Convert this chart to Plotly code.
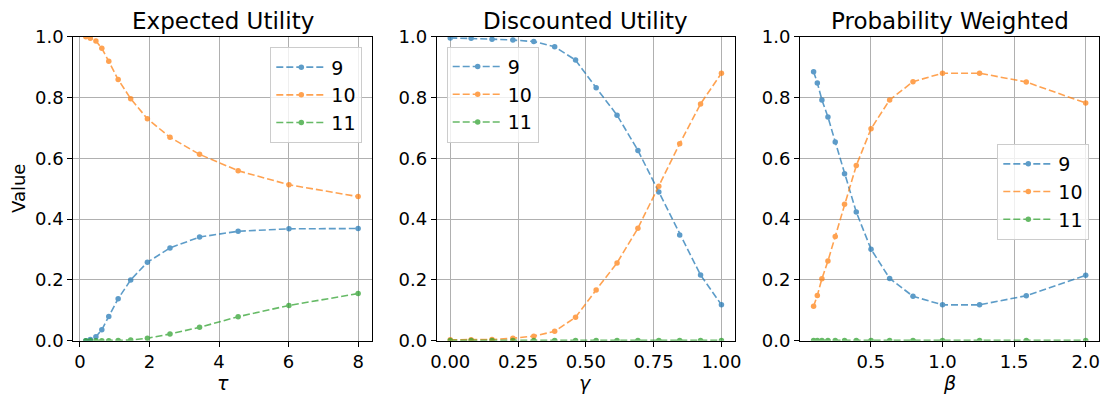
import plotly.graph_objects as go

# ---------------- data ----------------
series_names = ["9", "10", "11"]

tau = [0.17, 0.3, 0.46, 0.63, 0.83, 1.1, 1.46, 1.94, 2.59, 3.44, 4.55, 6.01, 8.0]
eu_9 = [0.0, 0.004, 0.013, 0.036, 0.080, 0.138, 0.200, 0.258, 0.305, 0.341, 0.360, 0.368, 0.369]
eu_10 = [1.0, 0.995, 0.986, 0.962, 0.919, 0.859, 0.796, 0.730, 0.669, 0.613, 0.559, 0.513, 0.474]
eu_11 = [0.0, 0.0, 0.0, 0.0, 0.0, 0.001, 0.002, 0.008, 0.022, 0.044, 0.079, 0.116, 0.155]

gamma = [0.0, 0.077, 0.154, 0.231, 0.308, 0.385, 0.462, 0.538, 0.615, 0.692, 0.769, 0.846, 0.923, 1.0]
du_9 = [0.996, 0.995, 0.992, 0.989, 0.984, 0.967, 0.923, 0.832, 0.742, 0.626, 0.489, 0.348, 0.216, 0.118]
du_10 = [0.003, 0.003, 0.004, 0.008, 0.015, 0.031, 0.077, 0.167, 0.256, 0.370, 0.508, 0.648, 0.779, 0.880]
du_11 = [0.001] * 14

beta = [0.1, 0.126, 0.158, 0.2, 0.251, 0.316, 0.398, 0.501, 0.631, 0.794, 1.0, 1.259, 1.585, 2.0]
pw_9 = [0.885, 0.848, 0.792, 0.736, 0.654, 0.549, 0.423, 0.301, 0.205, 0.146, 0.118, 0.118, 0.148, 0.215]
pw_10 = [0.113, 0.149, 0.204, 0.262, 0.343, 0.449, 0.576, 0.697, 0.792, 0.852, 0.880, 0.880, 0.851, 0.782]
pw_11 = [0.001] * 14

panel_titles = ["Expected Utility", "Discounted Utility", "Probability Weighted"]
x_labels = ["<i>τ</i>", "<i>γ</i>", "<i>β</i>"]
y_label = "Value"

# ---------------- style ----------------
W, H = 1106, 395
FONT = "DejaVu Sans"
colors = ["#1f77b4", "#ff7f0e", "#2ca02c"]

def px_x(p):
    return p / W

def px_y(p):
    return 1 - p / H

x_domains = [
    [px_x(73.3), px_x(371.7)],
    [px_x(436.7), px_x(735.0)],
    [px_x(800.0), px_x(1099.3)],
]
y_domain = [px_y(340.7), px_y(36.7)]

fig = go.Figure()

panels = [
    (tau, [eu_9, eu_10, eu_11]),
    (gamma, [du_9, du_10, du_11]),
    (beta, [pw_9, pw_10, pw_11]),
]
legend_ids = ["legend", "legend2", "legend3"]

for i, (xs, ys_list) in enumerate(panels):
    ax = "" if i == 0 else str(i + 1)
    for j, ys in enumerate(ys_list):
        fig.add_trace(go.Scatter(
            x=xs, y=ys, name=series_names[j],
            mode="lines+markers",
            line=dict(color=colors[j], width=1.6, dash="7px,3px"),
            marker=dict(color=colors[j], size=5.5),
            opacity=0.72,
            xaxis="x" + ax, yaxis="y" + ax,
            legend=legend_ids[i],
        ))

axis_common = dict(
    showline=True, linecolor="black", linewidth=1, mirror=True,
    ticks="outside", ticklen=5, tickwidth=1, tickcolor="black",
    showgrid=True, gridcolor="#b0b0b0", gridwidth=0.8,
    zeroline=False, automargin=False,
    tickfont=dict(family=FONT, size=18, color="black"),
)

xranges = [[-0.19, 8.39], [-0.05, 1.05], [0.005, 2.095]]
xticks = [[0, 2, 4, 6, 8], [0, 0.25, 0.5, 0.75, 1.0], [0.5, 1.0, 1.5, 2.0]]
xfmts = ["d", ".2f", ".1f"]

layout = dict(
    width=W, height=H,
    margin=dict(l=0, r=0, t=0, b=0, autoexpand=False),
    paper_bgcolor="white", plot_bgcolor="white",
    font=dict(family=FONT, size=18, color="black"),
    showlegend=True,
)

for i in range(3):
    ax = "" if i == 0 else str(i + 1)
    layout["xaxis" + ax] = dict(
        axis_common, domain=x_domains[i], range=xranges[i],
        tickvals=xticks[i], tickformat=xfmts[i],
        anchor="y" + ax,
    )
    layout["yaxis" + ax] = dict(
        axis_common, domain=y_domain, range=[0, 1],
        tickvals=[0, 0.2, 0.4, 0.6, 0.8, 1.0], tickformat=".1f",
        anchor="x" + ax,
    )

legend_common = dict(
    bgcolor="rgba(255,255,255,0.8)", bordercolor="#cccccc", borderwidth=1,
    font=dict(family=FONT, size=19, color="black"),
    itemwidth=50, tracegroupgap=0,
)
layout["legend"] = dict(legend_common, x=px_x(362.3), y=px_y(47.3), xanchor="right", yanchor="top")
layout["legend2"] = dict(legend_common, x=px_x(446.7), y=px_y(46.7), xanchor="left", yanchor="top")
layout["legend3"] = dict(legend_common, x=px_x(1089.3), y=px_y(144.0), xanchor="right", yanchor="top")

annotations = []
for i in range(3):
    cx = (x_domains[i][0] + x_domains[i][1]) / 2
    annotations.append(dict(
        text=panel_titles[i], x=cx, y=px_y(21), xref="paper", yref="paper",
        xanchor="center", yanchor="middle", showarrow=False,
        font=dict(family=FONT, size=23, color="black"),
    ))
    annotations.append(dict(
        text=x_labels[i], x=cx, y=px_y(383), xref="paper", yref="paper",
        xanchor="center", yanchor="middle", showarrow=False,
        font=dict(family=FONT, size=19, color="black"),
    ))
annotations.append(dict(
    text=y_label, x=px_x(18), y=px_y(189), xref="paper", yref="paper",
    xanchor="center", yanchor="middle", showarrow=False, textangle=-90,
    font=dict(family=FONT, size=18, color="black"),
))
layout["annotations"] = annotations

fig.update_layout(**layout)
fig.write_html(
    "out.html",
    config={"displayModeBar": False},
    post_script="document.body.style.margin='0';document.body.style.overflow='hidden';",
)
